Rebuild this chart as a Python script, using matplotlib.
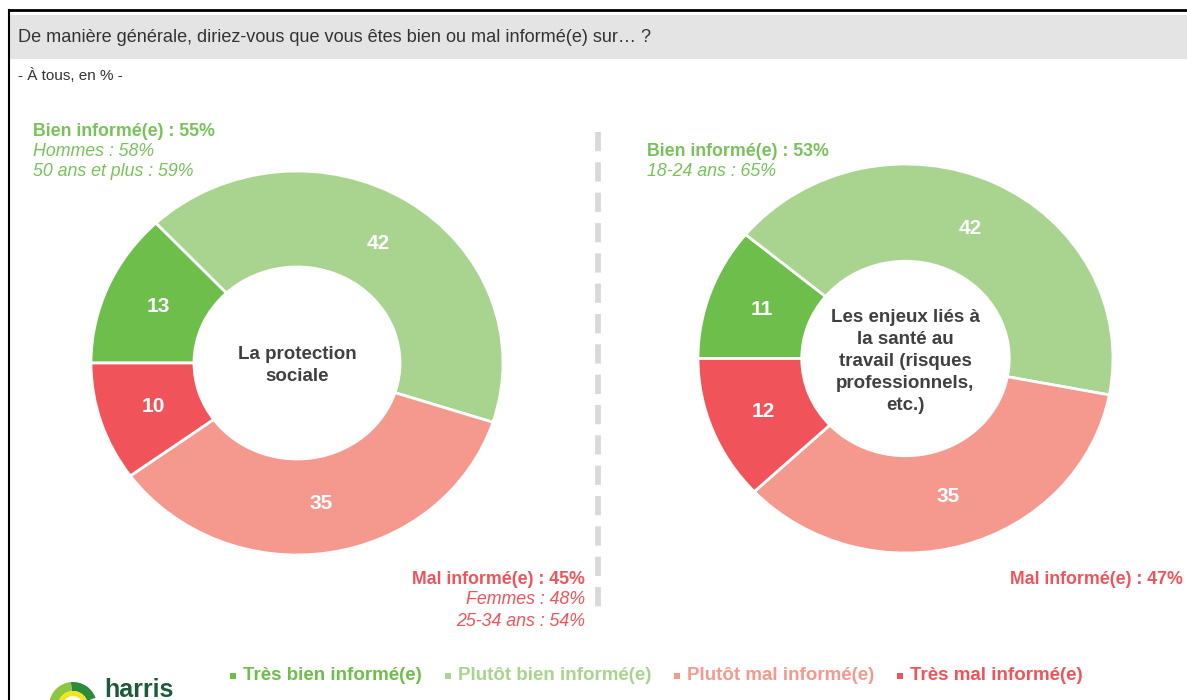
import matplotlib.pyplot as plt
import matplotlib.patches as mpatches
import numpy as np

plt.rcParams['font.family'] = ['Liberation Sans', 'DejaVu Sans']

# données
categories = ['Très bien informé(e)', 'Plutôt bien informé(e)',
              'Plutôt mal informé(e)', 'Très mal informé(e)']
protection = [13, 42, 35, 10]
sante = [11, 42, 35, 12]
centre_1 = 'La protection\nsociale'
centre_2 = 'Les enjeux liés à\nla santé au\ntravail (risques\nprofessionnels,\netc.)'
bien_1 = ['Bien informé(e) : 55%', 'Hommes : 58%', '50 ans et plus : 59%']
mal_1 = ['Mal informé(e) : 45%', 'Femmes : 48%', '25-34 ans : 54%']
bien_2 = ['Bien informé(e) : 53%', '18-24 ans : 65%']
mal_2 = ['Mal informé(e) : 47%']

couleurs = ['#6dbe4b', '#a9d48f', '#f5988e', '#f0545a']
vert = '#78c25a'
rouge = '#f0545a'

W, H = 1187, 700
fig = plt.figure(figsize=(W / 100, H / 100), dpi=100)

# fond en pixels
bg = fig.add_axes([0, 0, 1, 1])
bg.set_xlim(0, W)
bg.set_ylim(H, 0)
bg.axis('off')

bg.add_patch(mpatches.Rectangle((10, 15), W, 44, color='#e4e4e4', lw=0))
bg.plot([9, W], [10, 10], color='black', lw=2)
bg.plot([9, 9], [10, H], color='black', lw=1.5)
bg.text(18, 38, 'De manière générale, diriez-vous que vous êtes bien ou mal informé(e) sur… ?',
        fontsize=13.1, color='#333333', va='center')
bg.text(18, 75, '- À tous, en % -', fontsize=11, color='#333333', va='center')

# séparateur
bg.plot([598, 598], [132, 607], color='#d9d9d9', lw=4.2, dashes=(3.3, 1.9))

# annotations
for i, t in enumerate(bien_1):
    bg.text(33, 131 + i * 20.5, t, fontsize=12.8, color=vert, va='center',
            fontweight='bold' if i == 0 else 'normal', style='normal' if i == 0 else 'italic')
for i, t in enumerate(mal_1):
    bg.text(585, 579 + i * 21, t, fontsize=12.8, color=rouge, va='center', ha='right',
            fontweight='bold' if i == 0 else 'normal', style='normal' if i == 0 else 'italic')
for i, t in enumerate(bien_2):
    bg.text(647, 152 + i * 20, t, fontsize=12.8, color=vert, va='center',
            fontweight='bold' if i == 0 else 'normal', style='normal' if i == 0 else 'italic')
for i, t in enumerate(mal_2):
    bg.text(1183, 579 + i * 21, t, fontsize=12.8, color=rouge, va='center', ha='right',
            fontweight='bold')

# légende
leg_x = [233, 448, 677, 900]
for x, cat, c in zip(leg_x, categories, couleurs):
    bg.add_patch(mpatches.Rectangle((x - 3, 673), 6, 6, color=c, lw=0))
    bg.text(x + 10, 676, cat, fontsize=13.5, color=c, va='center', fontweight='bold')

# logo harris
anneau = [('#2f8a3c', 20, 95), ('#8dc63f', 95, 175), ('#1f6f8b', 175, 200)]
for c, a1, a2 in anneau:
    bg.add_patch(mpatches.Wedge((73, 706), 24, -a2, -a1, width=9, color=c, lw=0))
bg.add_patch(mpatches.Wedge((73, 706), 15, -180, 0, width=5, color='#f2e51c', lw=0))
bg.text(104, 690, 'harris', fontsize=18, color='#1d5a3a', fontweight='bold', va='center')


def donut(rect, valeurs, centre):
    ax = fig.add_axes([rect[0] / W, 1 - rect[3] / H, (rect[2] - rect[0]) / W,
                       (rect[3] - rect[1]) / H])
    wedges, _ = ax.pie(valeurs, colors=couleurs, startangle=180, counterclock=False,
                       radius=1, wedgeprops=dict(width=0.5, edgecolor='white', linewidth=2))
    ax.set_aspect('auto')
    ax.set_xlim(-1, 1)
    ax.set_ylim(-1, 1)
    ax.axis('off')
    for w, v in zip(wedges, valeurs):
        a = np.deg2rad((w.theta1 + w.theta2) / 2)
        ax.text(0.735 * np.cos(a), 0.74 * np.sin(a), str(v), ha='center', va='center',
                color='white', fontsize=15, fontweight='bold')
    ax.text(0, -0.015, centre, ha='center', va='center', fontsize=13.5, fontweight='bold',
            color='#404040', linespacing=1.38)


donut((91, 171, 503, 555), protection, centre_1)
donut((698, 164, 1113, 553), sante, centre_2)

fig.savefig('out.png', dpi=100)
